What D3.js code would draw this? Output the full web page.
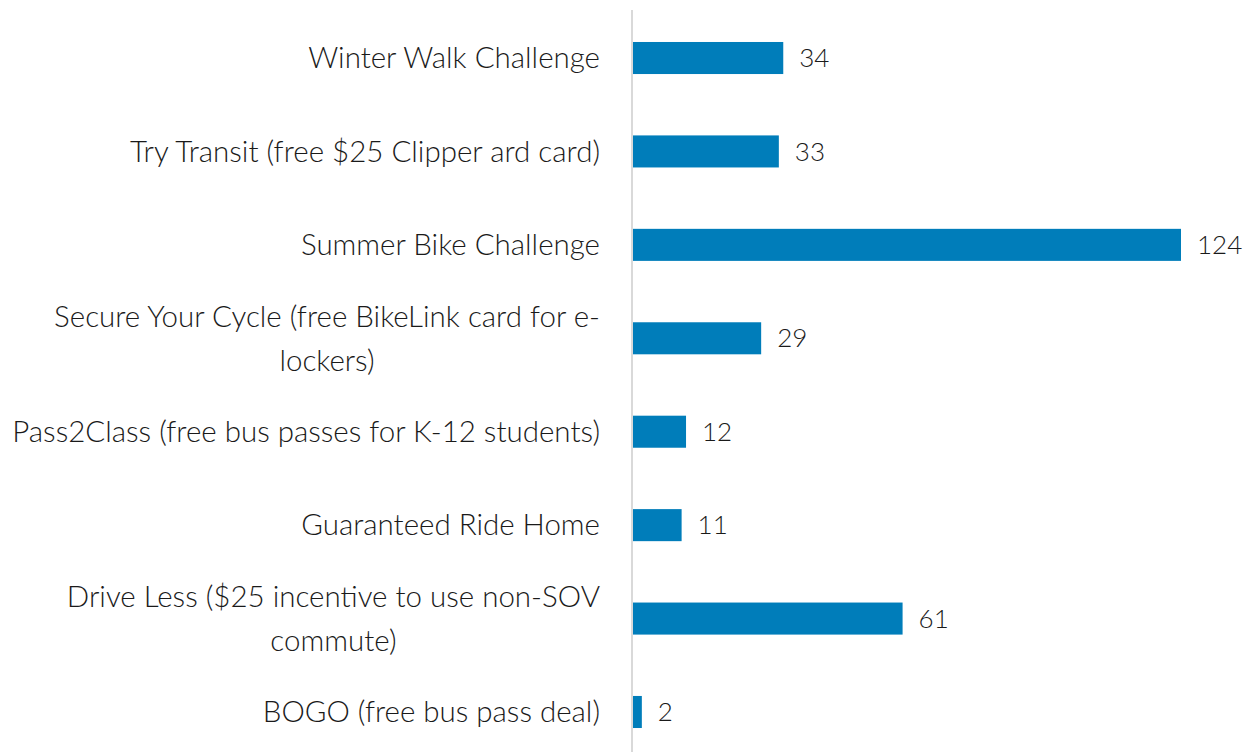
<html>
<head>
  <script src="https://d3js.org/d3.v7.min.js"></script>
  <style>
    body { margin: 0; background: #fff; }
    text { font-family: "Lato", "Open Sans", sans-serif; font-weight: 300; fill: #1a1a1a; }
    .bar { fill: #007dba; }
    .axis-line { stroke: #d9d9d9; stroke-width: 2px; }
  </style>
</head>
<body>
  <svg width="1253" height="752"></svg>
  <script>
    // data
    var categories = [
      "Winter Walk Challenge",
      "Try Transit (free $25 Clipper ard card)",
      "Summer Bike Challenge",
      "Secure Your Cycle (free BikeLink card for e-\nlockers)",
      "Pass2Class (free bus passes for K-12 students)",
      "Guaranteed Ride Home",
      "Drive Less ($25 incentive to use non-SOV\ncommute)",
      "BOGO (free bus pass deal)"
    ];
    var values = [34, 33, 124, 29, 12, 11, 61, 2];

    var svg = d3.select("svg"),
        x0 = 633,
        labelSize = 29.5,
        valueSize = 26;

    var x = d3.scaleLinear().domain([0, 124]).range([x0, 1181]);
    var y = d3.scaleBand().domain(categories).range([11.3, 758.7]).paddingInner(0.657).paddingOuter(0.3285);

    svg.selectAll("rect.bar")
      .data(values)
      .enter().append("rect")
        .attr("class", "bar")
        .attr("x", x(0))
        .attr("y", function(d, i) { return y(categories[i]); })
        .attr("width", function(d) { return x(d) - x(0); })
        .attr("height", y.bandwidth());

    svg.append("line")
        .attr("class", "axis-line")
        .attr("x1", x0 - 1).attr("x2", x0 - 1)
        .attr("y1", 10).attr("y2", 752);

    svg.selectAll("text.value")
      .data(values)
      .enter().append("text")
        .attr("class", "value")
        .attr("x", function(d) { return x(d) + 16; })
        .attr("y", function(d, i) { return y(categories[i]) + y.bandwidth() / 2; })
        .attr("dy", "0.35em")
        .style("font-size", valueSize + "px")
        .text(function(d) { return d; });

    // category labels: block right-aligned, lines centered within the block
    var right = 600, lineH = 44;
    categories.forEach(function(c) {
      var lines = c.split("\n");
      var cy = y(c) + y.bandwidth() / 2;
      var g = svg.append("g");
      var ts = lines.map(function(l, j) {
        return g.append("text")
          .attr("y", cy + (j - (lines.length - 1) / 2) * lineH)
          .attr("dy", "0.35em")
          .attr("text-anchor", "middle")
          .style("font-size", labelSize + "px")
          .text(l);
      });
      var w = d3.max(ts, function(t) { return t.node().getComputedTextLength(); });
      ts.forEach(function(t) { t.attr("x", right - w / 2); });
    });
  </script>
</body>
</html>
